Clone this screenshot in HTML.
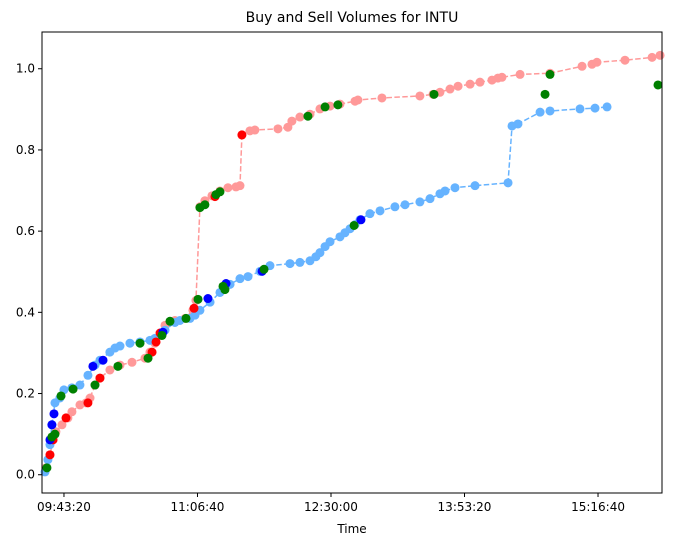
<!DOCTYPE html>
<html><head><meta charset="utf-8"><style>
body{margin:0;background:#fff;}
svg{display:block;font-family:"DejaVu Sans","Liberation Sans",sans-serif;}
</style></head><body>
<svg id="chart" width="675" height="547" xmlns="http://www.w3.org/2000/svg">
<text x="352" y="22" text-anchor="middle" font-size="14">Buy and Sell Volumes for INTU</text>
<text x="352" y="533" text-anchor="middle" font-size="12">Time</text>
<g id="plot"></g>
</svg>
<script>
// minutes since 09:30
const sellTimes=[2.1,4.6,6.5,8.3,12.1,15.8,18.3,23.3,27.1,29.6,32.7,35.8,42.0,48.3,55.8,63.9,67.0,70.1,73.3,76.4,82.6,88.9,93.8,95.7,98.2,101.3,105.7,110.7,115.7,120.7,123.2,124.4,129.4,132.5,146.9,153.1,155.6,160.6,166.9,173.1,179.4,185.6,195.0,196.8,211.8,235.5,243.7,248.0,254.3,259.3,266.8,273.0,280.5,284.2,286.7,298.0,316.7,336.7,342.9,346.0,363.5,380.4,385.4];
const sellValues=[.017,.049,.086,.106,.123,.140,.155,.172,.177,.189,.221,.238,.258,.270,.277,.287,.302,.324,.343,.368,.380,.385,.405,.429,.660,.675,.687,.699,.707,.709,.712,.837,.847,.849,.852,.856,.871,.881,.888,.901,.908,.913,.920,.923,.928,.933,.937,.942,.950,.957,.962,.967,.972,.977,.979,.986,.989,1.006,1.011,1.016,1.021,1.028,1.033];
const buyTimes=[1.5,3.3,4.6,5.8,7.7,10.8,13.3,18.3,23.3,28.3,32.7,35.8,42.0,45.2,48.3,54.5,60.8,67.0,70.1,76.4,82.6,85.7,92.0,95.1,98.2,104.5,110.7,117.0,123.2,128.2,135.7,141.9,154.4,160.6,166.9,170.6,173.1,176.3,179.4,185.6,188.7,191.9,195.0,198.1,204.3,210.6,219.9,226.2,235.5,241.8,248.0,251.2,257.4,269.9,290.5,293.0,296.7,310.5,316.7,335.4,344.8,352.3];
const buyValues=[.007,.037,.074,.123,.177,.189,.209,.214,.221,.245,.270,.282,.302,.312,.317,.324,.327,.331,.336,.356,.375,.380,.385,.393,.405,.425,.449,.469,.483,.488,.501,.515,.520,.523,.527,.537,.547,.562,.574,.586,.596,.606,.616,.628,.643,.650,.660,.665,.672,.680,.692,.699,.707,.712,.719,.859,.864,.893,.896,.901,.903,.906];
const redTimes=[4.6,6.5,14.6,28.3,35.8,68.3,70.8,73.3,94.5,107.6,124.4];
const redValues=[.049,.086,.140,.177,.238,.302,.327,.349,.410,.685,.837];
const blueTimes=[4.6,5.8,7.1,31.4,37.7,75.1,103.2,114.5,137.0,198.7];
const blueValues=[.086,.123,.150,.267,.282,.351,.434,.471,.501,.628];
const greenTimes=[2.7,5.8,7.7,11.5,19.0,32.7,47.0,60.8,65.8,74.5,79.5,89.5,97.0,98.2,101.3,108.2,110.7,112.6,113.8,138.2,165.6,176.3,184.3,194.4,244.3,313.6,316.7,384.1];
const greenValues=[.017,.093,.100,.194,.211,.221,.267,.324,.287,.343,.378,.385,.432,.658,.665,.690,.697,.464,.456,.506,.883,.906,.911,.614,.937,.937,.986,.960];
const xTickMinutes=[13.333,96.667,180,263.333,346.667];
const xTickLabels=["09:43:20","11:06:40","12:30:00","13:53:20","15:16:40"];
const yTicks=[0,0.2,0.4,0.6,0.8,1.0];
const yTickLabels=["0.0","0.2","0.4","0.6","0.8","1.0"];

const L=42,R=662,T=32,B=493;
const xMin=-0.38,xMax=386.6,yMin=-0.045,yMax=1.0905;
const x=m=>L+(m-xMin)/(xMax-xMin)*(R-L);
const y=v=>B-(v-yMin)/(yMax-yMin)*(B-T);
const NS="http://www.w3.org/2000/svg";
const g=document.getElementById('plot');
function mk(tag,attrs){const e=document.createElementNS(NS,tag);for(const k in attrs)e.setAttribute(k,attrs[k]);g.appendChild(e);return e;}

function series(ts,vs,color,name){
  const p=mk('polyline',{points:ts.map((t,i)=>x(t)+','+y(vs[i])).join(' '),fill:'none',stroke:color,'stroke-width':1.5,'stroke-dasharray':'5.5,2.4'});
  
  
  ts.forEach((t,i)=>{const c=mk('circle',{cx:x(t),cy:y(vs[i]),r:4.5,fill:color});
    
    });
}
function dots(ts,vs,color,name){
  ts.forEach((t,i)=>{const c=mk('circle',{cx:x(t),cy:y(vs[i]),r:4.5,fill:color});
    
    });
}
series(sellTimes,sellValues,'#ff9999','sell-volume');
series(buyTimes,buyValues,'#66b3ff','buy-volume');
dots(redTimes,redValues,'#ff0000','sell-marker');
dots(blueTimes,blueValues,'#0000ff','buy-marker');
dots(greenTimes,greenValues,'#008000','green-marker');

const frame=mk('rect',{x:L,y:T,width:R-L,height:B-T,fill:'none',stroke:'#000','stroke-width':1});


xTickMinutes.forEach((m,i)=>{
  const l=mk('line',{x1:x(m),x2:x(m),y1:B,y2:B+4,stroke:'#000'});
  
  
  const t=mk('text',{x:x(m),y:B+18,'text-anchor':'middle','font-size':12});
  t.textContent=xTickLabels[i];
  
  
});
yTicks.forEach((v,i)=>{
  const l=mk('line',{x1:L-4,x2:L,y1:y(v),y2:y(v),stroke:'#000'});
  
  
  const t=mk('text',{x:L-7,y:y(v)+4,'text-anchor':'end','font-size':12});
  t.textContent=yTickLabels[i];
  
  
});
</script>
</body></html>
